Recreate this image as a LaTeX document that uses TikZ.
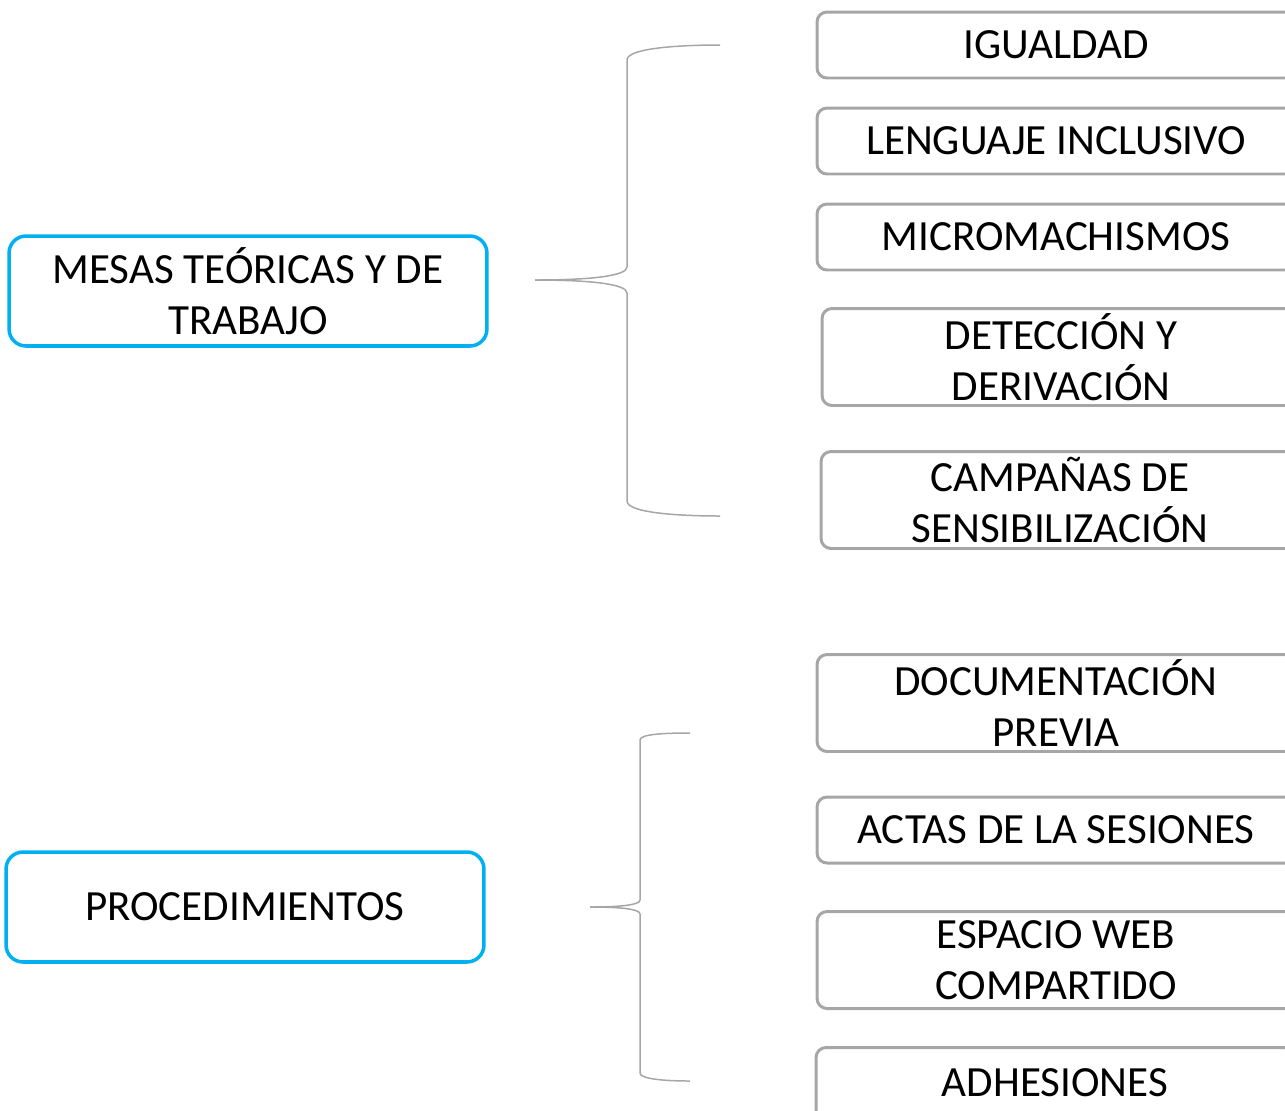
\documentclass[tikz,border=0pt]{standalone}
\usepackage{fontspec}
\setmainfont{Carlito}
\usepackage{tikz}
\definecolor{boxblue}{HTML}{00B0F0}
\definecolor{boxgray}{HTML}{A6A6A6}
\tikzset{
    every node/.style={rectangle, inner sep=0mm, align=center, font=\fontsize{24.5}{29}\selectfont},
    mainbox/.style={draw=boxblue, line width=2pt, rounded corners=0.34cm, minimum width=9.56cm, minimum height=2.2cm},
    itembox/.style={draw=boxgray, line width=1.7pt, rounded corners=0.2cm, minimum width=9.56cm, minimum height=1.32cm},
    tallbox/.style={itembox, minimum height=1.94cm},
    brace/.style={draw=boxgray, line width=0.85pt}
}

\begin{document}
\begin{tikzpicture}[x=0.02cm, y=-0.02cm]
        \clip (0,0) rectangle (1285,1110);
        \node (m0) [mainbox] at (248, 291) {MESAS TEÓRICAS Y DE\\TRABAJO};
        \node (m1) [mainbox] at (245, 907) {PROCEDIMIENTOS};
        \node (b0) [itembox] at (1056, 45) {IGUALDAD};
        \node (b1) [itembox] at (1056, 141) {LENGUAJE INCLUSIVO};
        \node (b2) [itembox] at (1056, 237) {MICROMACHISMOS};
        \node (b3) [tallbox] at (1061, 357) {DETECCIÓN Y\\DERIVACIÓN};
        \node (b4) [tallbox] at (1060, 500) {CAMPAÑAS DE\\SENSIBILIZACIÓN};
        \node (b5) [tallbox] at (1056, 703) {DOCUMENTACIÓN\\PREVIA};
        \node (b6) [itembox] at (1056, 830) {ACTAS DE LA SESIONES};
        \node (b7) [tallbox] at (1056, 960) {ESPACIO WEB\\COMPARTIDO};
        \node (b8) [tallbox] at (1055, 1096) {ADHESIONES\\[-0.46cm]\phantom{X}};
        \coordinate (t0) at (535, 280);
        \coordinate (e0) at (720, 45);
        \coordinate (f0) at (720, 516);
        \coordinate (t1) at (590, 907);
        \coordinate (e1) at (690, 733);
        \coordinate (f1) at (690, 1081);
        \draw [brace] (t0) .. controls (590, 280) and (627, 276) .. (627, 267)
                -- (627, 60) .. controls (627, 48) and (680, 45) .. (e0);
        \draw [brace] (t0) .. controls (590, 280) and (627, 284) .. (627, 293)
                -- (627, 501) .. controls (627, 513) and (680, 516) .. (f0);
        \draw [brace] (t1) .. controls (620, 907) and (640, 905) .. (640, 900)
                -- (640, 740) .. controls (640, 734) and (665, 733) .. (e1);
        \draw [brace] (t1) .. controls (620, 907) and (640, 909) .. (640, 914)
                -- (640, 1073) .. controls (640, 1079) and (665, 1081) .. (f1);
\end{tikzpicture}
\end{document}
